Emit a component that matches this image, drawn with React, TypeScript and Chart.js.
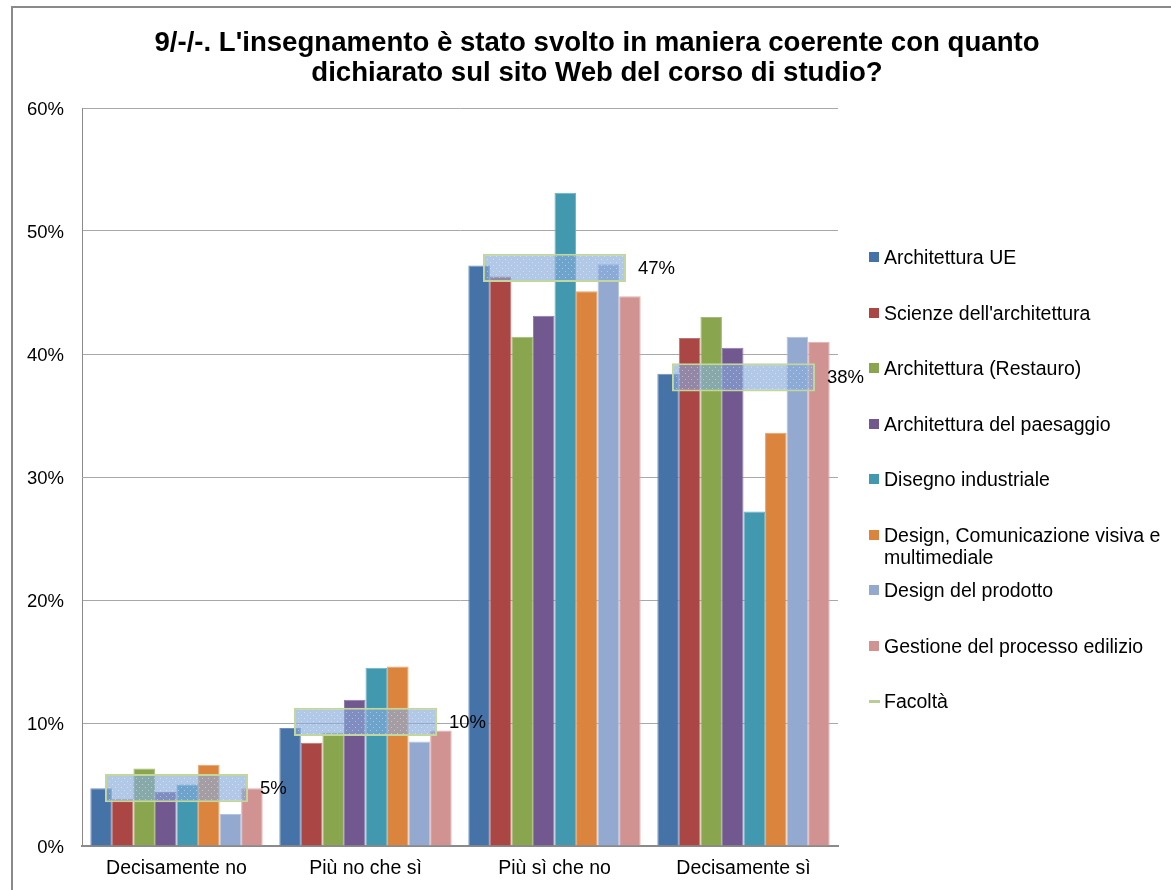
import React, { useEffect, useRef } from "react";
import { Chart, registerables } from "chart.js";

Chart.register(...registerables);

const categories = ["Decisamente no", "Più no che sì", "Più sì che no", "Decisamente sì"];

const seriesNames = [
  "Architettura UE",
  "Scienze dell'architettura",
  "Architettura (Restauro)",
  "Architettura del paesaggio",
  "Disegno industriale",
  "Design, Comunicazione visiva e multimediale",
  "Design del prodotto",
  "Gestione del processo edilizio",
];

const architetturaUE = [4.7, 9.6, 47.2, 38.4];
const scienzeArchitettura = [3.8, 8.4, 46.3, 41.3];
const architetturaRestauro = [6.3, 9.2, 41.4, 43.0];
const architetturaPaesaggio = [4.4, 11.9, 43.1, 40.5];
const disegnoIndustriale = [5.0, 14.5, 53.1, 27.2];
const designComunicazione = [6.6, 14.6, 45.1, 33.6];
const designProdotto = [2.6, 8.5, 47.3, 41.4];
const gestioneProcesso = [4.7, 9.4, 44.7, 41.0];

const facoltaName = "Facoltà";
const facolta = [4.7, 10.1, 47.0, 38.1];

const yTicks = [0, 10, 20, 30, 40, 50, 60];

const seriesValues = [
  architetturaUE,
  scienzeArchitettura,
  architetturaRestauro,
  architetturaPaesaggio,
  disegnoIndustriale,
  designComunicazione,
  designProdotto,
  gestioneProcesso,
];

const colors = ["#4572A7", "#AA4643", "#89A54E", "#71588F", "#4198AF", "#DB843D", "#93A9CF", "#D19392"];
const edgeColors = ["#6f8fbd", "#c07472", "#a4bb76", "#8e7aa7", "#6db2c4", "#e6a26a", "#b3c3df", "#e0b1b0"];
const facoltaLineColor = "#B9CD96";
const boxHalf = 1.15;
const FONT = "'Liberation Sans', Arial, sans-serif";

function makePattern(): CanvasPattern | string {
  const c = document.createElement("canvas");
  c.width = 6;
  c.height = 6;
  const g = c.getContext("2d");
  if (!g) return "rgba(135,170,218,0.65)";
  g.fillStyle = "rgba(135,170,218,0.65)";
  g.fillRect(0, 0, 6, 6);
  g.fillStyle = "rgba(255,255,255,0.4)";
  g.fillRect(1, 1, 1, 1);
  g.fillRect(4, 4, 1, 1);
  const p = g.createPattern(c, "repeat");
  return p || "rgba(135,170,218,0.65)";
}

const labelPlugin = {
  id: "facoltaLabels",
  afterDatasetsDraw(chart: any) {
    const idx = chart.data.datasets.length - 1;
    const meta = chart.getDatasetMeta(idx);
    const yScale = chart.scales.y;
    const ctx = chart.ctx;
    ctx.save();
    ctx.font = `18.5px ${FONT}`;
    ctx.fillStyle = "#000";
    ctx.textAlign = "left";
    ctx.textBaseline = "middle";
    meta.data.forEach((el: any, i: number) => {
      const x = el.x + el.width / 2 + 12;
      const y = yScale.getPixelForValue(facolta[i]) + 1;
      ctx.fillText(Math.round(facolta[i]) + "%", x, y);
    });
    ctx.restore();
  },
};

export default function App() {
  const ref = useRef<HTMLCanvasElement>(null);

  useEffect(() => {
    if (!ref.current) return;
    const datasets: any[] = seriesValues.map((vals, i) => ({
      type: "bar",
      label: seriesNames[i],
      data: vals,
      backgroundColor: colors[i],
      borderColor: edgeColors[i],
      borderWidth: 1,
      categoryPercentage: 0.912,
      barPercentage: 1,
      order: 1,
    }));
    datasets.push({
      type: "bar",
      label: facoltaName,
      data: facolta.map((v) => [v - boxHalf, v + boxHalf]),
      backgroundColor: makePattern(),
      borderColor: "#C3D69B",
      borderWidth: 2,
      borderSkipped: false,
      grouped: false,
      categoryPercentage: 1,
      barPercentage: 0.757,
      order: 0,
    });

    const chart = new Chart(ref.current, {
      type: "bar",
      data: { labels: categories, datasets },
      options: {
        responsive: false,
        animation: false,
        layout: { padding: { left: 12, top: 108, right: 333, bottom: 14 } },
        plugins: {
          legend: { display: false },
          title: { display: false },
          tooltip: { enabled: false },
        },
        scales: {
          x: {
            grid: { display: false, drawTicks: false },
            border: { display: true, color: "#8a8a8a", width: 2 },
            ticks: { color: "#000", font: { size: 19.5, family: FONT }, padding: 11, maxRotation: 0 },
            afterFit: (s: any) => {
              s.height = 30;
            },
          },
          y: {
            min: 0,
            max: 60,
            afterBuildTicks: (s: any) => {
              s.ticks = yTicks.map((v) => ({ value: v }));
            },
            grid: { color: "#a8a8a8", lineWidth: 1, drawTicks: false },
            border: { display: true, color: "#8a8a8a", width: 1 },
            ticks: {
              color: "#000",
              font: { size: 18.5, family: FONT },
              padding: 18,
              labelOffset: 2,
              callback: (v: any) => v + "%",
            },
            afterFit: (s: any) => {
              s.width = 70;
            },
          },
        },
      },
      plugins: [labelPlugin],
    });
    return () => chart.destroy();
  }, []);

  const legendItems = [...seriesNames.map((n, i) => ({ name: n, color: colors[i], line: false })), { name: facoltaName, color: facoltaLineColor, line: true }];

  return (
    <div style={{ position: "absolute", left: 0, top: 0, width: 1171, height: 890, overflow: "hidden", background: "#fff", fontFamily: FONT }}>
      <div style={{ position: "absolute", left: 11, top: 6, width: 1250, height: 950, border: "2px solid #8a8a8a", boxSizing: "border-box" }} />
      <canvas ref={ref} width={1171} height={890} style={{ position: "absolute", left: 0, top: 0 }} />
      <div
        style={{
          position: "absolute",
          left: 0,
          top: 27,
          width: 1194,
          textAlign: "center",
          fontWeight: "bold",
          fontSize: 27.6,
          lineHeight: "30px",
          whiteSpace: "nowrap",
          color: "#000",
        }}
      >
        9/-/-. L'insegnamento è stato svolto in maniera coerente con quanto
        <br />
        dichiarato sul sito Web del corso di studio?
      </div>
      {legendItems.map((it, i) => (
        <div key={it.name} style={{ position: "absolute", left: 866, top: 246 + i * 55.5, width: 305 }}>
          {it.line ? (
            <div style={{ position: "absolute", left: 3, top: 10, width: 11, height: 3, background: it.color }} />
          ) : (
            <div style={{ position: "absolute", left: 3, top: 6, width: 10, height: 10, background: it.color }} />
          )}
          <div style={{ marginLeft: 18, fontSize: 19.5, lineHeight: "22px", color: "#000" }}>{it.name}</div>
        </div>
      ))}
    </div>
  );
}
